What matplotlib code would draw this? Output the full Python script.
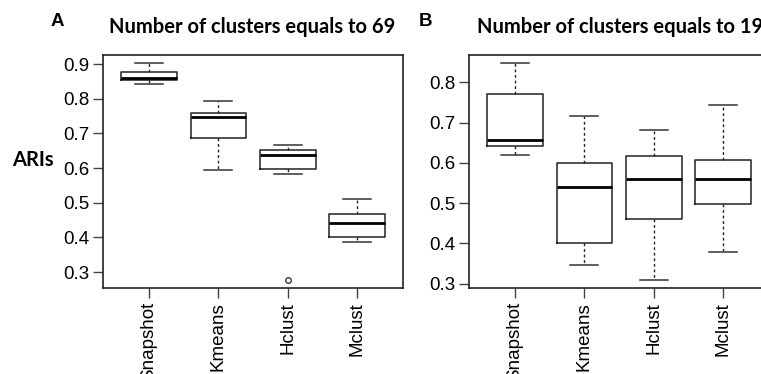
import matplotlib
matplotlib.use("Agg")
import matplotlib.pyplot as plt

categories = ["Snapshot", "Kmeans", "Hclust", "Mclust"]

# Panel A: number of clusters = 69
a_whislo = [0.843, 0.593, 0.582, 0.388]
a_q1     = [0.853, 0.687, 0.596, 0.401]
a_med    = [0.860, 0.746, 0.637, 0.441]
a_q3     = [0.876, 0.758, 0.652, 0.466]
a_whishi = [0.904, 0.794, 0.667, 0.512]
a_fliers = [[], [], [0.278], []]

# Panel B: number of clusters = 19
b_whislo = [0.620, 0.345, 0.310, 0.379]
b_q1     = [0.642, 0.400, 0.461, 0.497]
b_med    = [0.656, 0.541, 0.559, 0.559]
b_q3     = [0.772, 0.600, 0.616, 0.608]
b_whishi = [0.848, 0.716, 0.681, 0.744]
b_fliers = [[], [], [], []]

a_yticks = [0.3, 0.4, 0.5, 0.6, 0.7, 0.8, 0.9]
b_yticks = [0.3, 0.4, 0.5, 0.6, 0.7, 0.8]

title_a = "Number of clusters equals to 69"
title_b = "Number of clusters equals to 19"

W, H = 761, 374
fig = plt.figure(figsize=(W / 100, H / 100), dpi=100)

tick_font = "Liberation Sans"
title_font = "Lato"


def make_stats(lo, q1, med, q3, hi, fl):
    return [dict(whislo=lo[i], q1=q1[i], med=med[i], q3=q3[i], whishi=hi[i],
                 fliers=fl[i], label=categories[i]) for i in range(len(categories))]


def panel(rect, stats, yticks, ylim):
    ax = fig.add_axes(rect)
    ax.bxp(stats, positions=[1, 2, 3, 4], widths=0.8, showfliers=True,
           patch_artist=False,
           boxprops=dict(color="#222222", linewidth=1.1),
           medianprops=dict(color="black", linewidth=2.0),
           whiskerprops=dict(color="#222222", linewidth=1.0, linestyle=(0, (2, 2))),
           capprops=dict(color="#333333", linewidth=1.1),
           capwidths=0.4,
           flierprops=dict(marker="o", markersize=4, markerfacecolor="none",
                           markeredgecolor="#222222", markeredgewidth=0.9))
    ax.set_xlim(0.34, 4.66)
    ax.set_ylim(*ylim)
    ax.set_yticks(yticks)
    ax.set_yticklabels([f"{t:.1f}" for t in yticks], fontsize=13.5, family=tick_font)
    ax.set_xticks([1, 2, 3, 4])
    ax.set_xticklabels(categories, rotation=90, fontsize=13.5, family=tick_font,
                       va="top")
    ax.tick_params(axis="both", direction="out", length=7, width=1, color="#444444",
                   pad=3)
    for s in ax.spines.values():
        s.set_linewidth(1.2)
        s.set_color("#222222")
    return ax


axA = panel([103 / W, 1 - 288 / H, 300 / W, 233 / H],
            make_stats(a_whislo, a_q1, a_med, a_q3, a_whishi, a_fliers),
            a_yticks, (0.254, 0.926))
axB = panel([469 / W, 1 - 288 / H, 300 / W, 233 / H],
            make_stats(b_whislo, b_q1, b_med, b_q3, b_whishi, b_fliers),
            b_yticks, (0.289, 0.868))

fig.text(252 / W, 1 - 27 / H, title_a, ha="center", va="center",
         fontsize=14.5, fontweight="bold", family=title_font)
fig.text(620 / W, 1 - 27 / H, title_b, ha="center", va="center",
         fontsize=14.5, fontweight="bold", family=title_font)
fig.text(57 / W, 1 - 22 / H, "A", ha="center", va="center",
         fontsize=13.5, fontweight="bold", family=tick_font)
fig.text(425 / W, 1 - 21 / H, "B", ha="center", va="center",
         fontsize=13.5, fontweight="bold", family=tick_font)
fig.text(33 / W, 1 - 160 / H, "ARIs", ha="center", va="center",
         fontsize=14.5, fontweight="bold", family=title_font)

fig.savefig("out.png", dpi=100)
